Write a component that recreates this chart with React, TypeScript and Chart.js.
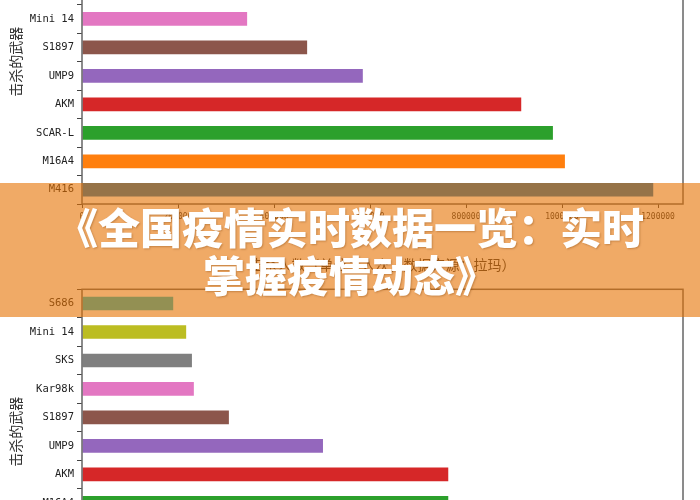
import React, { useEffect, useRef } from "react";
import { Chart, registerables } from "chart.js";

Chart.register(...registerables);

// ---- data ----
const topWeapons = ["S686", "SKS", "Kar98k", "Mini 14", "S1897", "UMP9", "AKM", "SCAR-L", "M16A4", "M416"];
const topKills = [250000, 290000, 320000, 344000, 469000, 585000, 915000, 981000, 1006000, 1190000];
const topColors = ["#17becf", "#bcbd22", "#7f7f7f", "#e377c2", "#8c564b", "#9467bd", "#d62728", "#2ca02c", "#ff7f0e", "#1f77b4"];

const bottomWeapons = ["S686", "Mini 14", "SKS", "Kar98k", "S1897", "UMP9", "AKM", "M16A4", "SCAR-L", "M416"];
const bottomKills = [190000, 217000, 229000, 233000, 306000, 502000, 763000, 763000, 830000, 950000];
const bottomColors = ["#17becf", "#bcbd22", "#7f7f7f", "#e377c2", "#8c564b", "#9467bd", "#d62728", "#2ca02c", "#ff7f0e", "#1f77b4"];

const xTicks = [0, 200000, 400000, 600000, 800000, 1000000, 1200000];
const axisMax = 1252000;

const yTitle = "击杀的武器";
const xTitle = "击杀人数（单位：人次，数据来源：拉玛）";
const bannerLines = ["《全国疫情实时数据一览：实时", "掌握疫情动态》"];

const spinePlugin = {
  id: "spines",
  afterDraw(chart: any) {
    const { ctx, chartArea: a } = chart;
    ctx.save();
    ctx.strokeStyle = "#666";
    ctx.lineWidth = 1.5;
    ctx.strokeRect(a.left, a.top, a.right - a.left, a.bottom - a.top);
    ctx.restore();
  },
};

const CANVAS_H = 364;

function BarPanel({ labels, values, colors, top }: { labels: string[]; values: number[]; colors: string[]; top: number }) {
  const ref = useRef<HTMLCanvasElement | null>(null);
  useEffect(() => {
    const chart = new Chart(ref.current as HTMLCanvasElement, {
      type: "bar",
      data: {
        labels,
        datasets: [
          {
            data: values,
            backgroundColor: colors,
            borderWidth: 0,
            barPercentage: 0.48,
            categoryPercentage: 1,
          },
        ],
      },
      options: {
        indexAxis: "y",
        animation: false,
        responsive: false,
        devicePixelRatio: 1,
        layout: { padding: { top: 1, right: 17, left: 0, bottom: 0 } },
        plugins: { legend: { display: false }, tooltip: { enabled: false } },
        scales: {
          x: {
            min: 0,
            max: axisMax,
            afterFit(s: any) {
              s.height = 70;
            },
            afterBuildTicks(s: any) {
              s.ticks = xTicks.map((v) => ({ value: v }));
            },
            ticks: {
              callback: (v: any) => String(v),
              font: { family: "DejaVu Sans Mono", size: 8 },
              color: "#333",
              padding: 4,
              maxRotation: 0,
              autoSkip: false,
            },
            grid: { drawOnChartArea: false, tickLength: 4, color: "#444" },
            border: { display: false },
            title: {
              display: true,
              text: xTitle,
              font: { family: "Noto Sans CJK SC", size: 14 },
              color: "#333",
              padding: { top: 0, bottom: 1 },
            },
          },
          y: {
            afterFit(s: any) {
              s.width = 82;
            },
            ticks: {
              font: { family: "DejaVu Sans Mono", size: 10.5 },
              color: "#222",
              padding: 3,
              autoSkip: false,
            },
            grid: { drawOnChartArea: false, tickLength: 5, color: "#444" },
            border: { display: false },
            title: {
              display: true,
              text: yTitle,
              font: { family: "Noto Sans CJK SC", size: 14 },
              color: "#333",
              padding: { top: 7, bottom: 0 },
            },
          },
        },
      } as any,
      plugins: [spinePlugin],
    });
    return () => chart.destroy();
  }, []);
  return (
    <canvas
      ref={ref}
      width={700}
      height={CANVAS_H}
      style={{ position: "absolute", left: 0, top, width: 700, height: CANVAS_H }}
    />
  );
}

export default function App() {
  return (
    <div
      style={{
        position: "fixed",
        left: 0,
        top: 0,
        width: 700,
        height: 500,
        overflow: "hidden",
        background: "#fff",
      }}
    >
      <BarPanel labels={topWeapons} values={topKills} colors={topColors} top={-90} />
      <BarPanel labels={bottomWeapons} values={bottomKills} colors={bottomColors} top={280} />
      <div
        style={{
          position: "absolute",
          left: 0,
          top: 183,
          width: 700,
          height: 134,
          background: "rgba(230,113,0,0.6)",
          display: "flex",
          flexDirection: "column",
          alignItems: "center",
          justifyContent: "center",
          color: "#fff",
          fontFamily: "'Noto Sans CJK SC', sans-serif",
          fontWeight: 900,
          fontSize: 42,
          lineHeight: "48px",
          textShadow: "1px 1px 2px rgba(120,60,0,0.35)",
        }}
      >
        {bannerLines.map((l) => (
          <div key={l} style={{ whiteSpace: "nowrap" }}>
            {l}
          </div>
        ))}
      </div>
    </div>
  );
}
